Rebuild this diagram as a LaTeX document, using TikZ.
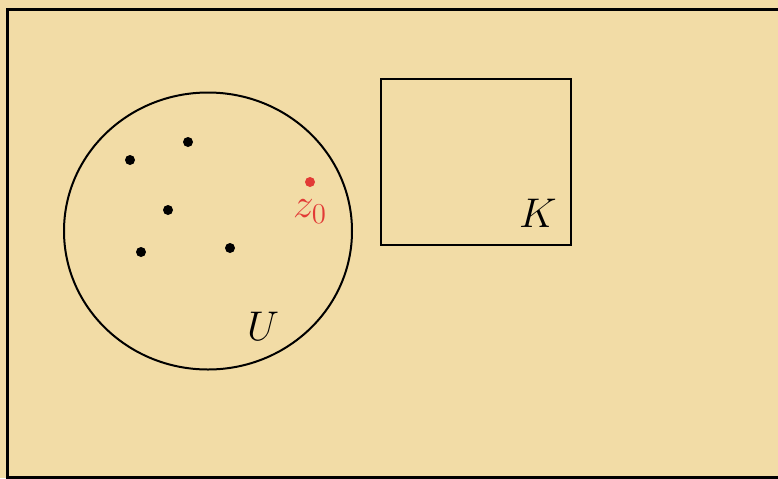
\documentclass[tikz,border=0pt]{standalone}
\usepackage{xcolor}
\usepackage{tikz}
\usetikzlibrary{positioning}
\definecolor{cmpSand}{HTML}{F2DCA6}
\definecolor{cmpRed}{HTML}{E23A36}
\tikzset{
  frameline/.style={draw=black,line width=1pt},
  ptdot/.style={circle,fill=black,inner sep=0pt,minimum size=5pt},
  redpt/.style={circle,fill=cmpRed,inner sep=0pt,minimum size=5pt},
  setlabel/.style={font=\huge,inner sep=0pt}
}
\begin{document}
\begin{tikzpicture}[x=0.5pt,y=-0.5pt]
  \fill[cmpSand] (0,0) rectangle (778,478);
  \useasboundingbox (0,0) rectangle (778,478);
  \begin{scope}
    \clip (0,0) rectangle (778,478);
    \draw[frameline, line width=1.5pt] (7,9) rectangle (800,477);
  \end{scope}
  % the set U and its points
  \draw[frameline] (208,231) ellipse [x radius=144, y radius=138.5];
  \node[setlabel] (lblU) at (263,326) {$U$};
  \node[ptdot] (p1) at (130,160) {};
  \node[ptdot] (p2) at (188,142) {};
  \node[ptdot] (p3) at (168,210) {};
  \node[ptdot] (p4) at (141,252) {};
  \node[ptdot] (p5) at (230,248) {};
  \node[redpt] (z0) at (310,182) {};
  \node[setlabel, text=cmpRed, below=6pt of z0] (lblz) {$z_0$};
  % the compact set K
  \draw[frameline] (381,79) rectangle (571,245);
  \node[setlabel] (lblK) at (538,213) {$K$};
\end{tikzpicture}
\end{document}
